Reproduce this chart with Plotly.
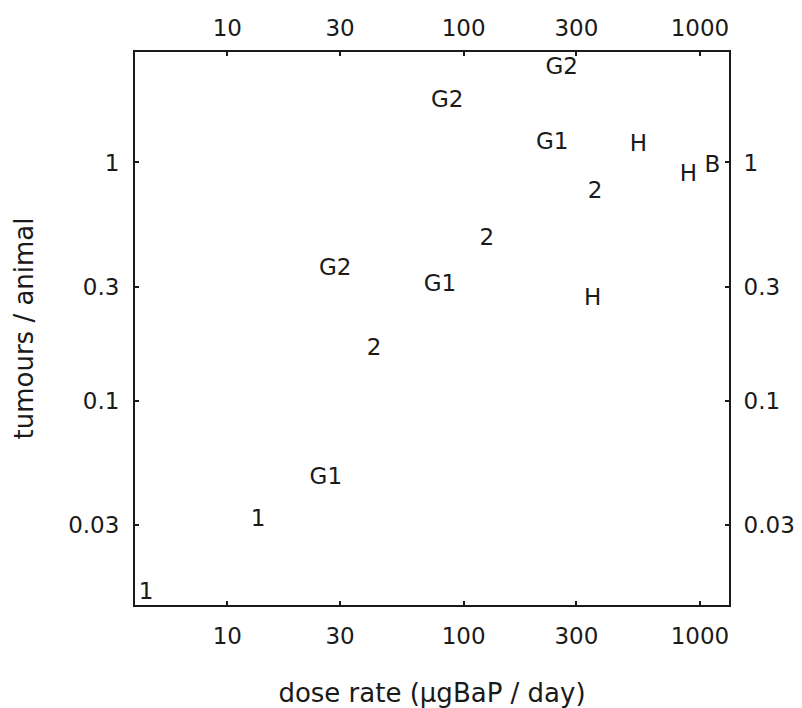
import plotly.graph_objects as go

labels = ["1", "1", "G1", "2", "G2", "G1", "2", "H", "G2", "G2", "G1", "H", "2", "H", "B"]
dose = [4.53, 13.5, 26.1, 41.8, 28.6, 79.4, 125.3, 351.7, 85.1, 260.0, 237.0, 549.0, 359.8, 893.0, 1129.0]
tumours = [0.0155, 0.0313, 0.0472, 0.164, 0.356, 0.306, 0.477, 0.267, 1.81, 2.49, 1.21, 1.18, 0.75, 0.886, 0.960]

x_ticks = [10, 30, 100, 300, 1000]
x_ticktext = ["10", "30", "100", "300", "1000"]
y_ticks = [0.03, 0.1, 0.3, 1]
y_ticktext = ["0.03", "0.1", "0.3", "1"]

x_range = [0.609, 3.123]
y_range = [-1.859, 0.464]

FONT = "DejaVu Sans"
INK = "#1a1a1a"

fig = go.Figure()
fig.add_trace(go.Scatter(
    x=dose, y=tumours, text=labels, mode="text",
    textposition="middle center",
    textfont=dict(family=FONT, size=23, color=INK),
    hoverinfo="x+y+text", showlegend=False,
))
# empty trace so the mirrored (top / right) axes are drawn
fig.add_trace(go.Scatter(x=[], y=[], xaxis="x2", yaxis="y2", showlegend=False, hoverinfo="skip"))

axis_common = dict(
    type="log", showgrid=False, zeroline=False, automargin=False,
    showline=True, linecolor=INK, linewidth=2,
    ticks="inside", ticklen=4, tickwidth=1.5, tickcolor=INK,
    tickfont=dict(family=FONT, size=23, color=INK),
)

# the page body adds an 8px margin, so the figure is sized to fit the window
fig.update_layout(
    width=794, height=700,
    margin=dict(l=127, r=73, t=44, b=103),
    paper_bgcolor="white", plot_bgcolor="white",
    xaxis=dict(range=x_range, tickvals=x_ticks, ticktext=x_ticktext,
               ticklabelstandoff=9,
               title=dict(text="dose rate (µgBaP / day)", standoff=37,
                          font=dict(family=FONT, size=26, color=INK)),
               **axis_common),
    yaxis=dict(range=y_range, tickvals=y_ticks, ticktext=y_ticktext,
               ticklabelstandoff=9,
               title=dict(text="tumours / animal", standoff=27,
                          font=dict(family=FONT, size=26, color=INK)),
               **axis_common),
    xaxis2=dict(range=x_range, tickvals=x_ticks, ticktext=x_ticktext,
                overlaying="x", side="top", anchor="y", ticklabelstandoff=5,
                **axis_common),
    yaxis2=dict(range=y_range, tickvals=y_ticks, ticktext=y_ticktext,
                overlaying="y", side="right", anchor="x", ticklabelstandoff=8,
                **axis_common),
)

fig.write_html("out.html")
